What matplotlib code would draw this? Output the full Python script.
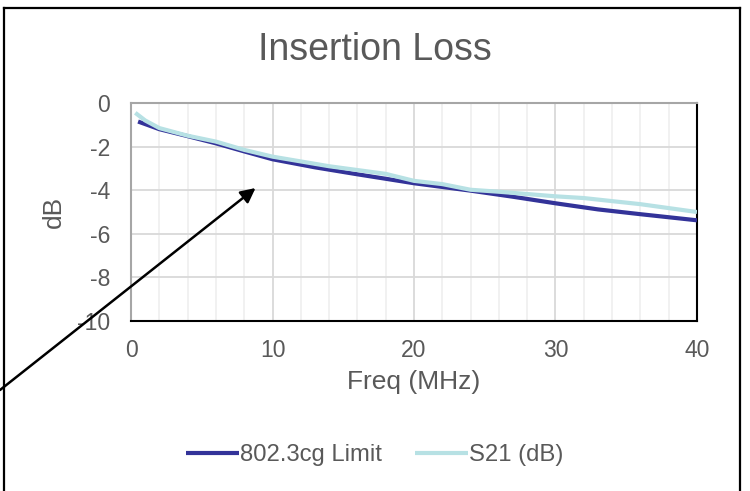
import matplotlib
matplotlib.use('Agg')
import matplotlib.pyplot as plt
from matplotlib.lines import Line2D
from matplotlib.ticker import MultipleLocator

# ─── Data ──────────────────────────────────────────────────────────────────────
limit_freq = [0.5, 2, 4, 6, 8, 10, 13, 16, 20, 24, 27, 30, 33, 36, 40]
limit_db   = [-0.85, -1.2, -1.52, -1.85, -2.22, -2.58, -2.95, -3.27, -3.68,
              -4.02, -4.3, -4.6, -4.88, -5.1, -5.38]

s21_freq = [0.3, 1, 2, 4, 6, 8, 10, 14, 18, 20, 22, 24, 26, 30, 32, 36, 40]
s21_db   = [-0.45, -0.8, -1.15, -1.5, -1.77, -2.15, -2.46, -2.9, -3.25, -3.57,
            -3.72, -3.98, -4.07, -4.28, -4.36, -4.64, -5.0]

series_names = ['802.3cg Limit', 'S21 (dB)']

TEXT = '#595959'
FS = 16.5
plt.rcParams['font.family'] = ['Liberation Sans', 'DejaVu Sans']
plt.rcParams['axes.unicode_minus'] = False

fig = plt.figure(figsize=(7.5, 4.91), dpi=100)
ax = fig.add_axes([0.1747, 0.3462, 0.9293 - 0.1747, 0.7902 - 0.3462])

ax.plot(limit_freq, limit_db, color='#333399', lw=3, label=series_names[0],
        solid_capstyle='butt', solid_joinstyle='round', zorder=3)
ax.plot(s21_freq, s21_db, color='#B7E1E4', lw=3, label=series_names[1],
        solid_capstyle='butt', solid_joinstyle='round', zorder=4)

ax.set_xlim(0, 40)
ax.set_ylim(-10, 0)
ax.xaxis.set_major_locator(MultipleLocator(10))
ax.xaxis.set_minor_locator(MultipleLocator(2))
ax.yaxis.set_major_locator(MultipleLocator(2))
ax.grid(which='major', color='#D9D9D9', lw=1.3)
ax.grid(which='minor', axis='x', color='#F0F0F0', lw=1.3)
ax.set_axisbelow(True)
ax.tick_params(which='both', length=0)
ax.tick_params(labelsize=FS, labelcolor=TEXT)
ax.tick_params(axis='x', pad=13)
ax.tick_params(axis='y', pad=15)

for side in ['top', 'left']:
    ax.spines[side].set_color('#A6A6A6')
    ax.spines[side].set_linewidth(1.5)
for side in ['bottom', 'right']:
    ax.spines[side].set_color('black')
    ax.spines[side].set_linewidth(1.5)

ax.set_xlabel('Freq (MHz)', fontsize=19, color=TEXT, labelpad=6)
ax.set_ylabel('dB', fontsize=19, color=TEXT, labelpad=8)
# title is centred on the whole chart, not on the plot area
fig.text(0.5, 1 - 50 / 491, 'Insertion Loss', fontsize=27, color=TEXT,
         ha='center', va='center')

fig.legend(loc='center', bbox_to_anchor=(0.5, 1 - 455 / 491), ncol=2,
           frameon=False, fontsize=17.2, labelcolor=TEXT, handlelength=2.2,
           handletextpad=0.05, columnspacing=1.4)

# arrow pointing into the plot
ax.annotate('', xy=(8.8, -3.9), xycoords='data',
            xytext=(0, 101), textcoords='figure pixels',
            arrowprops=dict(arrowstyle='-|>', color='black', lw=1.8,
                            mutation_scale=22, shrinkA=0, shrinkB=0),
            annotation_clip=False)

# chart border (open at the bottom)
l, r, t = 3.5 / 750, 739.5 / 750, 1 - 7.5 / 491
for xs, ys in [([l, l], [0, t]), ([l, r], [t, t]), ([r, r], [t, 0])]:
    fig.add_artist(Line2D(xs, ys, color='black', lw=1.6, transform=fig.transFigure))

plt.savefig('out.png', dpi=100, facecolor='white')
